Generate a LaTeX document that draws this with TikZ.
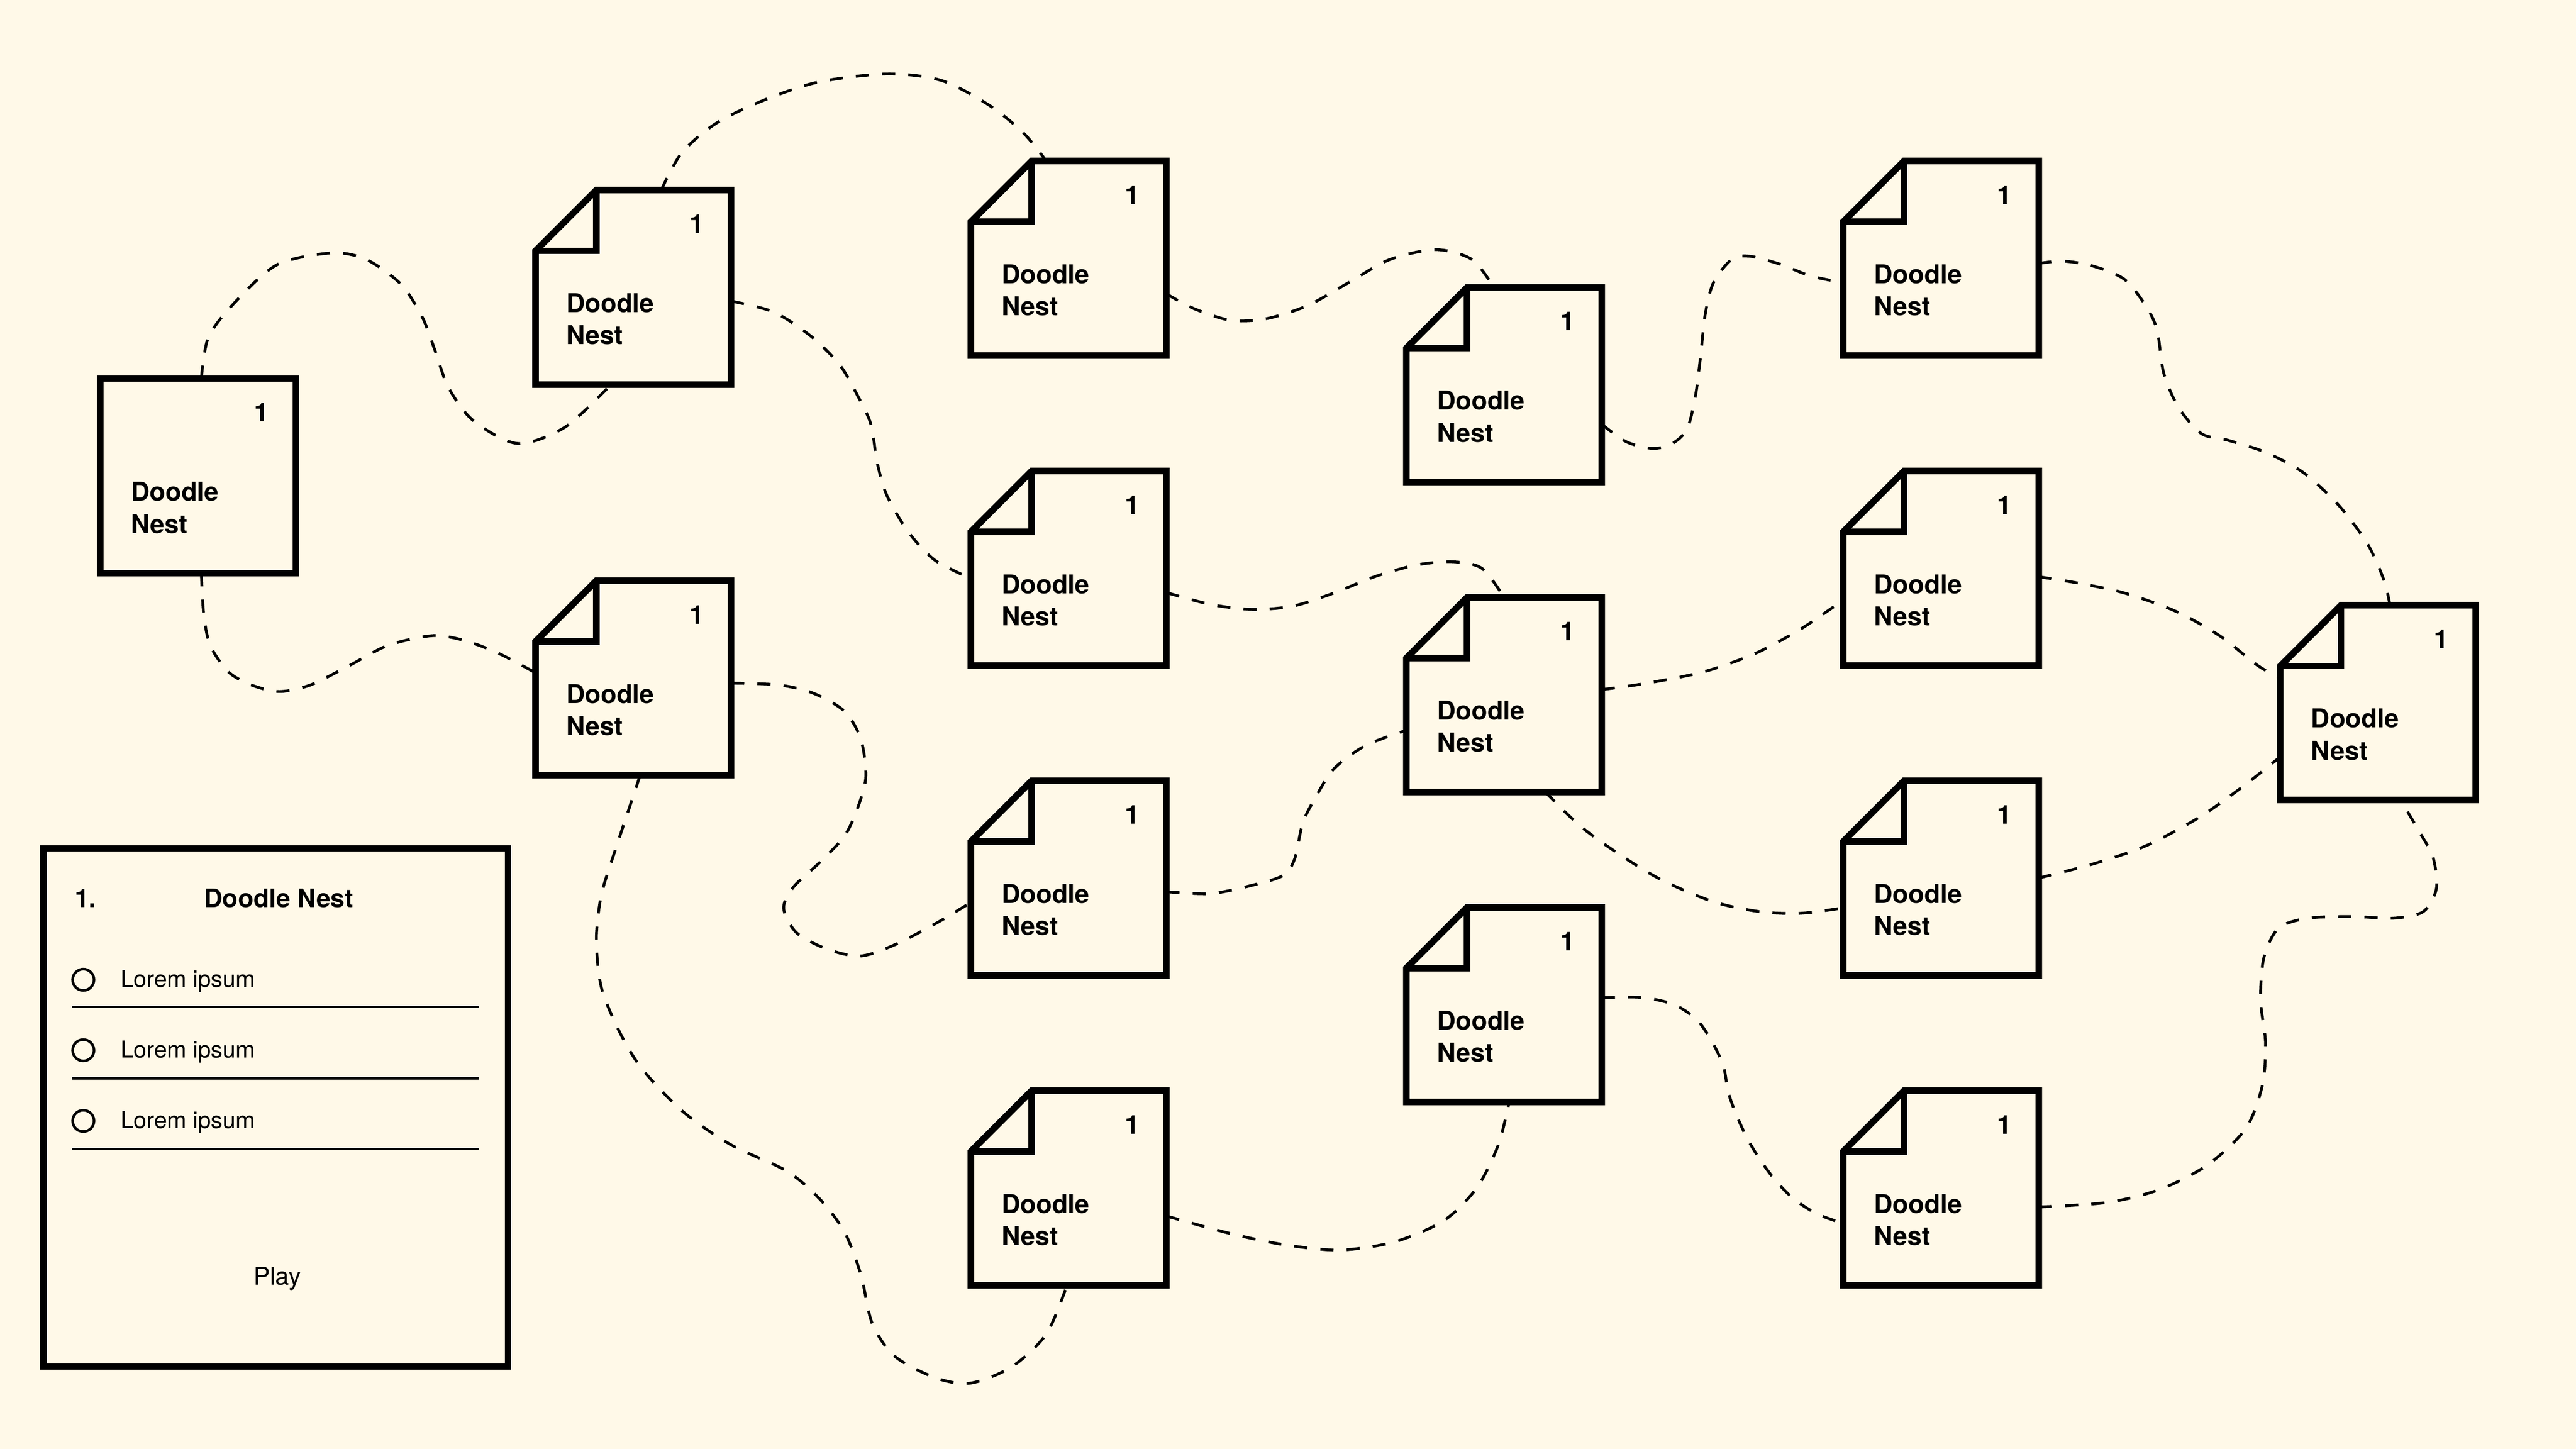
\documentclass[tikz,border=0pt]{standalone}
\usepackage{fontspec}
\setmainfont{TeX Gyre Heros}
\usetikzlibrary{calc}
\definecolor{paper}{HTML}{FFF9E8}
\tikzset{
  nestbox/.style={rectangle, inner sep=0pt, outer sep=0pt, minimum width=119pt, minimum height=118.5pt},
  boxline/.style={line width=4pt, line join=miter},
  nestword/.style={anchor=base west, inner sep=0pt, font=\fontsize{15.8}{19}\selectfont\bfseries},
  nestnum/.style={anchor=base east, inner sep=0pt, font=\fontsize{15.8}{19}\selectfont\bfseries},
  link/.style={line width=1.7pt, dash pattern=on 8pt off 8pt},
  legendhead/.style={inner sep=0pt, font=\fontsize{15.5}{18}\selectfont\bfseries},
  option/.style={anchor=base west, inner sep=0pt, font=\fontsize{14.2}{17}\selectfont},
  radio/.style={circle, draw, line width=1.6pt, inner sep=0pt, minimum size=13pt},
  rule/.style={line width=1.3pt}
}
\newcommand{\nest}[3]{%
  \node[nestbox] (#1) at (#2+59.5,#3+59.25) {};
  \draw[boxline] ($(#1.north west)+(37,0)$) -- (#1.north east) -- (#1.south east) -- (#1.south west) -- ($(#1.north west)+(0,37)$) -- cycle;
  \draw[boxline] ($(#1.north west)+(0,37)$) -- ++(37,0) -- ++(0,-37);
  \node[nestword] (#1-a) at ($(#1.north west)+(18.5,74.6)$) {Doodle};
  \node[nestword] (#1-b) at ($(#1.north west)+(18.5,94.1)$) {Nest};
  \node[nestnum] (#1-n) at ($(#1.north east)+(-16.3,26.3)$) {1};
}
\begin{document}
\begin{tikzpicture}[x=1pt, y=-1pt]

\fill[paper] (0,0) rectangle (1568,882);
\useasboundingbox (0,0) rectangle (1568,882);

\node[nestbox, draw, boxline] (A) at (120.5,289.75) {};
\node[nestword] (A-a) at ($(A.north west)+(18.5,74.6)$) {Doodle};
\node[nestword] (A-b) at ($(A.north west)+(18.5,94.1)$) {Nest};
\node[nestnum] (A-n) at ($(A.north east)+(-16.3,26.3)$) {1};

\nest{B1}{326}{115.7}
\nest{B2}{326}{353.5}

\nest{C1}{591}{98}
\nest{C2}{591}{286.7}
\nest{C3}{591}{475.3}
\nest{C4}{591}{664}

\nest{D1}{856}{175}
\nest{D2}{856}{363.7}
\nest{D3}{856}{552.4}

\nest{E1}{1122}{98}
\nest{E2}{1122}{286.7}
\nest{E3}{1122}{475.3}
\nest{E4}{1122}{664}

\nest{F}{1388}{368.5}

\draw[link] plot[smooth] coordinates {(A.88) (127,205) (144,183) (169,161) (202,154) (223,158) (244,173) (257,193) (265,214) (273,236) (288,256) (315,270) (344,260) (B1.257)};
\draw[link] plot[smooth] coordinates {(A.272) (124,374) (128,393) (139,409) (153,417) (170,421) (189,417) (213,405) (236,393) (263,387) (283,390) (304,398) (B2.177)};
\draw[link] plot[smooth] coordinates {(B1.74) (415,93) (436,75) (465,61) (498,50) (540,45) (573,49) (602,64) (623,81) (C1.103)};
\draw[link] plot[smooth] coordinates {(B1.352) (471,190) (494,205) (511,222) (521,239) (530,258) (534,282) (540,302) (553,324) (569,341) (C2.186)};
\draw[link] plot[smooth] coordinates {(B2.357) (474,417) (495,422) (514,433) (524,450) (527,473) (522,492) (514,509) (499,525) (483,540) (477,553) (485,568) (504,578) (524,582) (545,575) (570,562) (C3.194)};
\draw[link] plot[smooth] coordinates {(B2.274) (383,492) (374,519) (366,545) (363,572) (366,601) (377,628) (391,651) (416,677) (445,697) (479,713) (499,730) (514,750) (524,776) (531,806) (545,826) (570,839) (591,842) (616,832) (637,812) (C4.269)};

\draw[link] plot[smooth] coordinates {(C1.340) (727,188) (749,195) (771,194) (796,186) (821,172) (846,158) (874,152) (896,158) (D1.96)};
\draw[link] plot[smooth] coordinates {(C2.346) (737,368) (762,371) (787,369) (812,361) (837,351) (862,344) (884,342) (902,346) (D2.north)};
\draw[link] plot[smooth] coordinates {(C3.352) (737,544) (762,539) (781,533) (788,523) (793,501) (801,485) (812,468) (831,454) (D2.200)};
\draw[link] plot[smooth] coordinates {(C4.344) (749,751) (783,758) (816,761) (849,756) (879,743) (899,723) (912,697) (D3.273)};

\draw[link] plot[smooth] coordinates {(D1.338) (990,269) (1006,273) (1018,270) (1027,261) (1032,241) (1035,218) (1038,191) (1043,172) (1054,158) (1065,156) (1084,161) (1102,168) (E1.194)};
\draw[link] plot[smooth] coordinates {(D2.3) (1002,416) (1037,409) (1068,398) (1096,383) (E2.198)};
\draw[link] plot[smooth] coordinates {(D2.293) (962,503) (987,521) (1012,536) (1043,549) (1071,555) (1096,556) (E3.197)};
\draw[link] plot[smooth] coordinates {(D3.4) (993,607) (1005,608) (1020,612) (1033,621) (1042,634) (1049,649) (1052,665) (1057,679) (1064,694) (1072,707) (1081,719) (1092,730) (1106,739) (E4.200)};

\draw[link] plot[smooth] coordinates {(E1.357) (1256,159) (1274,162) (1293,170) (1306,186) (1313,201) (1317,227) (1326,248) (1340,264) (1356,268) (1378,275) (1401,287) (1423,307) (1441,331) (1451,353) (F.83)};
\draw[link] plot[smooth] coordinates {(E2.355) (1265,355) (1293,361) (1324,372) (1351,387) (1374,405) (F.166)};
\draw[link] plot[smooth] coordinates {(E3.east) (1274,526) (1306,515) (1338,498) (1365,479) (F.209)};
\draw[link] plot[smooth] coordinates {(E4.349) (1283,732) (1315,724) (1344,709) (1367,687) (1377,661) (1379,635) (1376,609) (1378,583) (1387,565) (1405,559) (1432,558) (1457,559) (1475,555) (1483,541) (1481,522) (1473,507) (F.283)};

\node[rectangle, draw, boxline, inner sep=0pt, minimum width=282.7pt, minimum height=315.5pt] (legend) at (167.85,674.25) {};
\node[legendhead, anchor=base west] (legend-num) at (45.4,552.4) {1.};
\node[legendhead, anchor=base] (legend-title) at (169.6,552.4) {Doodle Nest};

\node[radio] (r1) at (50.7,596.5) {};
\node[radio] (r2) at (50.7,639.4) {};
\node[radio] (r3) at (50.7,682.4) {};
\node[option] (o1) at (73.2,601.1) {Lorem ipsum};
\node[option] (o2) at (73.2,644) {Lorem ipsum};
\node[option] (o3) at (73.2,687) {Lorem ipsum};
\draw[rule] (44,613.2) -- (291.3,613.2);
\draw[rule] (44,656.5) -- (291.3,656.5);
\draw[rule] (44,699.6) -- (291.3,699.6);

\node[anchor=base, inner sep=0pt, font=\fontsize{15}{18}\selectfont] (play) at (168.8,782.4) {Play};

\end{tikzpicture}
\end{document}
